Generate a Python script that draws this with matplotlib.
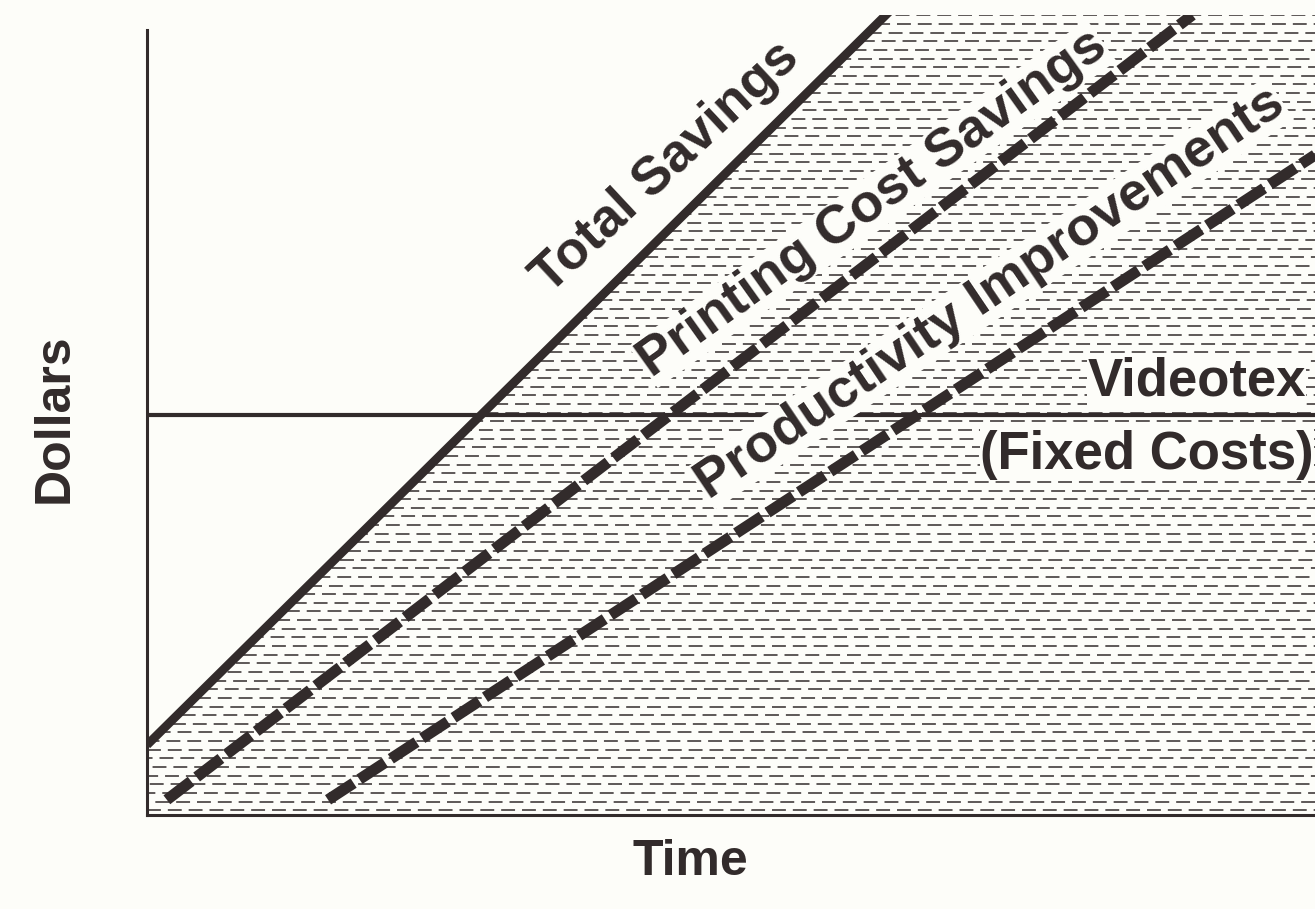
import matplotlib
matplotlib.use("Agg")
import matplotlib.pyplot as plt
import numpy as np

# schematic values (arbitrary units)
time = [0.0, 10.0]
total_savings = [0.875, 15.3]
printing_time = [0.17, 8.95]
printing_savings = [0.19, 10.0]
productivity_time = [1.55, 10.0]
productivity_savings = [0.19, 8.25]
fixed_costs = 5.0

ink = "#322b2b"
paper = "#fdfdf9"

plt.rcParams['font.family'] = ['Liberation Sans', 'DejaVu Sans']
plt.rcParams['lines.scale_dashes'] = False

W, H = 1315, 909
fig = plt.figure(figsize=(W / 100, H / 100), dpi=100, facecolor=paper)
# axes box in pixels: left 147, bottom 815, top 15, right 1315
ax = fig.add_axes([147 / W, (H - 815) / H, (W - 147) / W, 800 / H])
ax.set_facecolor(paper)
ax.set_xlim(0, 10)
ax.set_ylim(0, 10)

# shaded area under total savings (dashed horizontal hatching)
poly = ax.fill_between(time, 0, total_savings, color="none", lw=0)
levels = np.arange(0.06, 10.0, 0.108)
offs = [0, 9, 4, 13, 2, 11, 6, 15, 1, 8, 12, 5]
for k, yv in enumerate(levels):
    ln, = ax.plot([0, 10], [yv, yv], color=ink, lw=1.1,
                  linestyle=(offs[k % len(offs)], (10, 5.0)), zorder=1)
    ln.set_clip_path(poly.get_paths()[0], ax.transData)

# lines
ax.plot(time, total_savings, color=ink, lw=6.3, solid_capstyle="butt", zorder=3)
ax.plot(printing_time, printing_savings, color=ink, lw=8,
        linestyle=(0, (22, 5)), dash_capstyle="butt", zorder=3)
ax.plot(productivity_time, productivity_savings, color=ink, lw=8,
        linestyle=(0, (22, 5)), dash_capstyle="butt", zorder=3)
ax.axhline(fixed_costs, color=ink, lw=3, zorder=3)

for s in ["top", "right"]:
    ax.spines[s].set_visible(False)
for s in ["left", "bottom"]:
    ax.spines[s].set_color(ink)
    ax.spines[s].set_linewidth(2.2)
ax.spines["left"].set_bounds(0, 9.81)
ax.set_xticks([])
ax.set_yticks([])

box = dict(facecolor=paper, edgecolor="none", pad=0.5)
tk = dict(color=ink, fontweight="bold", ha="center", va="center",
          rotation_mode="anchor", zorder=5, bbox=box)
ax.text(4.44, 8.1, "Total Savings", fontsize=38.5, rotation=43, **tk)
ax.text(6.21, 7.64, "Printing Cost Savings", fontsize=39, rotation=35.5, **tk)
ax.text(7.22, 6.52, "Productivity Improvements", fontsize=39, rotation=34, **tk)
ax.text(9.92, 5.42, "Videotex", fontsize=38, color=ink, fontweight="bold",
        ha="right", va="center", zorder=5, bbox=box)
ax.text(9.99, 4.5, "(Fixed Costs)", fontsize=38, color=ink, fontweight="bold",
        ha="right", va="center", zorder=5, bbox=box)

fig.text(55 / W, 1 - 418 / H, "Dollars", fontsize=36, color=ink,
         fontweight="bold", rotation=90, ha="center", va="center")
fig.text(690 / W, 1 - 862 / H, "Time", fontsize=36, color=ink,
         fontweight="bold", ha="center", va="center")

fig.savefig("out.png", dpi=100, facecolor=paper)
